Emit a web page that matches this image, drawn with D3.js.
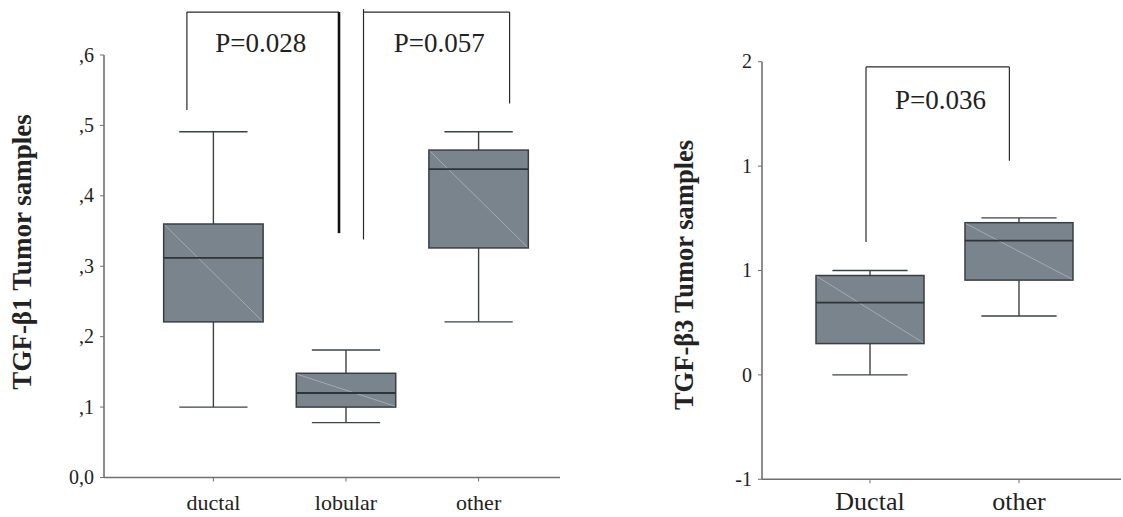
<!DOCTYPE html>
<html>
<head>
<meta charset="utf-8">
<script src="https://cdn.jsdelivr.net/npm/d3@7"></script>
<style>
  html, body { margin: 0; padding: 0; background: #fff; }
  svg { display: block; }
  text { font-family: "Liberation Serif", "Times New Roman", serif; fill: #222; }
</style>
</head>
<body>
<svg id="chart" width="1123" height="517"></svg>
<script>
// TGF-β1 by histological type
const leftCats = ["ductal", "lobular", "other"];
const leftMin = [0.100, 0.078, 0.221];
const leftQ1 = [0.221, 0.100, 0.326];
const leftMedian = [0.312, 0.120, 0.438];
const leftQ3 = [0.360, 0.148, 0.465];
const leftMax = [0.491, 0.181, 0.491];
const leftTicks = [0, 0.1, 0.2, 0.3, 0.4, 0.5, 0.6];
const leftPLabels = ["P=0.028", "P=0.057"];

// TGF-β3 by histological type
const rightCats = ["Ductal", "other"];
const rightMin = [0.000, 0.282];
const rightQ1 = [0.150, 0.454];
const rightMedian = [0.346, 0.643];
const rightQ3 = [0.476, 0.729];
const rightMax = [0.500, 0.752];
const rightTicks = [-0.5, 0, 0.5, 1, 1.5];
const rightPLabels = ["P=0.036"];

const svg = d3.select("#chart");

const boxFill = "#79848d";
const boxStroke = "#3a3f44";
const axisColor = "#707070";

function boxes(g, cats, mins, q1s, meds, q3s, maxs, x, y, boxW, capW) {
  cats.forEach((c, i) => {
    const cx = x(c);
    const grp = g.append("g");
    // whiskers
    grp.append("line").attr("x1", cx).attr("x2", cx)
      .attr("y1", y(maxs[i])).attr("y2", y(q3s[i]))
      .attr("stroke", "#3c4146").attr("stroke-width", 1.4);
    grp.append("line").attr("x1", cx).attr("x2", cx)
      .attr("y1", y(q1s[i])).attr("y2", y(mins[i]))
      .attr("stroke", "#3c4146").attr("stroke-width", 1.4);
    // caps
    [maxs[i], mins[i]].forEach(v => {
      grp.append("line").attr("x1", cx - capW / 2).attr("x2", cx + capW / 2)
        .attr("y1", y(v)).attr("y2", y(v))
        .attr("stroke", "#3c4146").attr("stroke-width", 1.4);
    });
    // box
    const x0 = cx - boxW / 2, x1 = cx + boxW / 2;
    grp.append("rect").attr("x", x0).attr("y", y(q3s[i]))
      .attr("width", boxW).attr("height", y(q1s[i]) - y(q3s[i]))
      .attr("fill", boxFill).attr("stroke", boxStroke).attr("stroke-width", 1.5);
    // light diagonal across the box
    grp.append("line").attr("x1", x0 + 1).attr("y1", y(q3s[i]) + 1)
      .attr("x2", x1 - 1).attr("y2", y(q1s[i]) - 1)
      .attr("stroke", "#aeb5ba").attr("stroke-width", 0.8);
    // median
    grp.append("line").attr("x1", x0).attr("x2", x1)
      .attr("y1", y(meds[i])).attr("y2", y(meds[i]))
      .attr("stroke", "#2f3439").attr("stroke-width", 1.8);
  });
}

function axes(g, x, y, cats, ticks, fmt, xLeft, xRight, tickFont, catFont, catBaseline) {
  g.append("line").attr("x1", xLeft).attr("x2", xLeft)
    .attr("y1", y(ticks[0])).attr("y2", y(ticks[ticks.length - 1]))
    .attr("stroke", axisColor).attr("stroke-width", 1.6);
  g.append("line").attr("x1", xLeft).attr("x2", xRight)
    .attr("y1", y(ticks[0])).attr("y2", y(ticks[0]))
    .attr("stroke", axisColor).attr("stroke-width", 1.6);
  ticks.forEach(t => {
    g.append("line").attr("x1", xLeft - 4).attr("x2", xLeft)
      .attr("y1", y(t)).attr("y2", y(t))
      .attr("stroke", axisColor).attr("stroke-width", 1);
    g.append("text").attr("x", xLeft - 10).attr("y", y(t)).attr("dy", "0.33em")
      .attr("text-anchor", "end").style("font-size", tickFont + "px")
      .text(fmt(t));
  });
  cats.forEach(c => {
    g.append("line").attr("x1", x(c)).attr("x2", x(c))
      .attr("y1", y(ticks[0])).attr("y2", y(ticks[0]) + 4)
      .attr("stroke", axisColor).attr("stroke-width", 1);
    g.append("text").attr("x", x(c)).attr("y", catBaseline)
      .attr("text-anchor", "middle").style("font-size", catFont + "px")
      .text(c);
  });
}

function bracket(g, xa, xb, yTop, yA, yB, opts = {}) {
  g.append("line").attr("x1", xa).attr("x2", xb).attr("y1", yTop).attr("y2", yTop)
    .attr("stroke", "#2a2a2a").attr("stroke-width", 1.2);
  g.append("line").attr("x1", xa).attr("x2", xa).attr("y1", yTop - (opts.overA || 0)).attr("y2", yA)
    .attr("stroke", opts.thickA ? "#111" : "#2a2a2a").attr("stroke-width", opts.thickA ? 2.6 : 1.2);
  g.append("line").attr("x1", xb).attr("x2", xb).attr("y1", yTop).attr("y2", yB)
    .attr("stroke", opts.thickB ? "#111" : "#2a2a2a").attr("stroke-width", opts.thickB ? 2.6 : 1.2);
}

// ---------- left panel ----------
const gL = svg.append("g");
const xL = d3.scalePoint().domain(leftCats).range([104, 588]).padding(0.825);
const yL = d3.scaleLinear().domain([0, 0.6]).range([477.5, 55]);
const stepL = xL.step();

axes(gL, xL, yL, leftCats, leftTicks,
  v => v === 0 ? "0,0" : "," + Math.round(v * 10),
  104, 560, 20, 22, 510);
boxes(gL, leftCats, leftMin, leftQ1, leftMedian, leftQ3, leftMax, xL, yL,
  stepL * 0.75, stepL * 0.515);

// comparison brackets
bracket(gL, xL("ductal") - 26.5, xL("lobular") - 7, yL(0.661), yL(0.522), yL(0.347), { thickB: true });
bracket(gL, xL("lobular") + 17.5, xL("other") + 31, yL(0.661), yL(0.338), yL(0.531), { overA: 3 });
gL.append("text").attr("x", (xL("ductal") + xL("lobular")) / 2 - 19).attr("y", 52)
  .attr("text-anchor", "middle").style("font-size", "27px").text(leftPLabels[0]);
gL.append("text").attr("x", (xL("lobular") + xL("other")) / 2 + 27).attr("y", 52)
  .attr("text-anchor", "middle").style("font-size", "27px").text(leftPLabels[1]);

gL.append("text").attr("transform", "translate(31,252) rotate(-90)")
  .attr("text-anchor", "middle").style("font-size", "27px").style("font-weight", "bold")
  .text("TGF-β1 Tumor samples");

// ---------- right panel ----------
const gR = svg.append("g");
const xR = d3.scalePoint().domain(rightCats).range([762, 1127]).padding(0.725);
const yR = d3.scaleLinear().domain([-0.5, 1.5]).range([479.3, 61.7]);
const stepR = xR.step();

axes(gR, xR, yR, rightCats, rightTicks,
  v => (v < 0 ? "-" : "") + Math.round(Math.abs(v)),
  762, 1121, 20, 26, 510);
boxes(gR, rightCats, rightMin, rightQ1, rightMedian, rightQ3, rightMax, xR, yR,
  stepR * 0.725, stepR * 0.505);

bracket(gR, xR("Ductal") - 4, xR("other") - 9.6, yR(1.475), yR(0.636), yR(1.026));
gR.append("text").attr("x", 940.5).attr("y", 109)
  .attr("text-anchor", "middle").style("font-size", "27px").text(rightPLabels[0]);

gR.append("text").attr("transform", "translate(693,275) rotate(-90)")
  .attr("text-anchor", "middle").style("font-size", "26.5px").style("font-weight", "bold")
  .text("TGF-β3 Tumor samples");
</script>
</body>
</html>
